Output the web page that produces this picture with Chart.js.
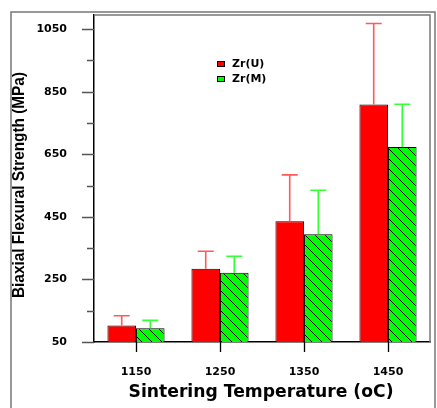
<!DOCTYPE html>
<html>
<head>
<meta charset="utf-8">
<script src="https://cdn.jsdelivr.net/npm/chart.js@4"></script>
<style>
  html, body { margin: 0; padding: 0; background: #fff; }
  canvas { display: block; }
</style>
</head>
<body>
<canvas id="chart" width="437" height="408"></canvas>
<script>
// sintering temperatures (oC)
const temperatures = ["1150", "1250", "1350", "1450"];

// mean biaxial flexural strength (MPa)
const zrU = [103, 284, 436, 809];
const zrM = [94, 271, 394, 673];

// upper error bar (standard deviation, MPa)
const zrUErr = [31, 56, 148, 259];
const zrMErr = [25, 53, 141, 137];

// y axis ticks; only every other one gets a label
const yTicks = [50, 150, 250, 350, 450, 550, 650, 750, 850, 950, 1050];
const yLabels = [50, 250, 450, 650, 850, 1050];

const errors = [zrUErr, zrMErr];
const errorColors = ["#ff5a5a", "#35ff35"];

// green bars are filled with a back-slash hatch
function hatch() {
  const c = document.createElement("canvas");
  c.width = 10;
  c.height = 10;
  const g = c.getContext("2d");
  g.fillStyle = "#00ff00";
  g.fillRect(0, 0, 10, 10);
  g.strokeStyle = "#000";
  g.lineWidth = 1;
  g.beginPath();
  g.moveTo(-1, -1); g.lineTo(11, 11);
  g.moveTo(-6, 4); g.lineTo(6, 16);
  g.moveTo(4, -6); g.lineTo(16, 6);
  g.stroke();
  return g.createPattern(c, "repeat");
}

const decorations = {
  id: "decorations",
  afterDatasetsDraw(chart) {
    const ctx = chart.ctx;
    const y = chart.scales.y;
    ctx.save();
    // error bars, upward only
    chart.data.datasets.forEach((ds, i) => {
      const meta = chart.getDatasetMeta(i);
      meta.data.forEach((bar, j) => {
        const top = y.getPixelForValue(ds.data[j] + errors[i][j]);
        ctx.strokeStyle = errorColors[i];
        ctx.lineWidth = 1.6;
        ctx.beginPath();
        ctx.moveTo(bar.x, bar.y);
        ctx.lineTo(bar.x, top);
        ctx.moveTo(bar.x - 8, top);
        ctx.lineTo(bar.x + 8, top);
        ctx.stroke();
      });
    });
    ctx.restore();
  },
  afterDraw(chart) {
    const ctx = chart.ctx;
    const { left, right, top, bottom } = chart.chartArea;
    const x = chart.scales.x;
    const y = chart.scales.y;
    ctx.save();

    // outer frame and plot frame
    ctx.strokeStyle = "#777";
    ctx.lineWidth = 1.5;
    ctx.beginPath();
    ctx.moveTo(11, 408);
    ctx.lineTo(11, 12);
    ctx.lineTo(435, 12);
    ctx.lineTo(435, 408);
    ctx.moveTo(left, top);
    ctx.lineTo(right, top);
    ctx.lineTo(right, bottom);
    ctx.stroke();

    // y ticks: long for labelled values, short otherwise
    ctx.strokeStyle = "#555";
    ctx.lineWidth = 1.3;
    ctx.beginPath();
    yTicks.forEach(v => {
      const py = Math.round(y.getPixelForValue(v)) + 0.5;
      const len = yLabels.includes(v) ? 12 : 7;
      ctx.moveTo(left - len, py);
      ctx.lineTo(left, py);
    });
    ctx.stroke();

    // x ticks below the axis
    ctx.strokeStyle = "#000";
    ctx.beginPath();
    temperatures.forEach((t, i) => {
      const px = Math.round(x.getPixelForValue(i)) + 0.5;
      ctx.moveTo(px, bottom);
      ctx.lineTo(px, bottom + 10);
    });
    ctx.stroke();

    // axis titles
    ctx.fillStyle = "#000";
    ctx.textAlign = "center";
    ctx.textBaseline = "middle";
    ctx.font = "bold 17px 'DejaVu Sans'";
    const xTitle = "Sintering Temperature (oC)";
    const xw = ctx.measureText(xTitle).width;
    ctx.save();
    ctx.translate(261, 393);
    ctx.scale(265 / xw, 1);
    ctx.fillText(xTitle, 0, 0);
    ctx.restore();

    ctx.font = "bold 17px 'Liberation Sans'";
    const yTitle = "Biaxial Flexural Strength (MPa)";
    const yw = ctx.measureText(yTitle).width;
    ctx.save();
    ctx.translate(19, 185);
    ctx.rotate(-Math.PI / 2);
    ctx.scale(226 / yw, 1);
    ctx.fillText(yTitle, 0, 0);
    ctx.restore();

    // legend
    ctx.font = "bold 11px 'DejaVu Sans'";
    ctx.textAlign = "left";
    chart.data.datasets.forEach((ds, i) => {
      const ly = 61 + i * 15;
      ctx.fillStyle = i === 0 ? "#ff0000" : "#00ff00";
      ctx.fillRect(217, ly, 8, 6);
      ctx.strokeStyle = "#000";
      ctx.lineWidth = 1;
      ctx.strokeRect(217.5, ly + 0.5, 7, 5);
      ctx.fillStyle = "#000";
      ctx.fillText(ds.label, 232, ly + 3);
    });
    ctx.restore();
  }
};

const tickFont = { family: "'DejaVu Sans'", weight: "bold", size: 11 };

new Chart(document.getElementById("chart"), {
  type: "bar",
  data: {
    labels: temperatures,
    datasets: [
      {
        label: "Zr(U)",
        data: zrU,
        backgroundColor: "#ff0000",
        borderColor: "#000",
        borderWidth: 1,
        borderSkipped: "bottom",
      },
      {
        label: "Zr(M)",
        data: zrM,
        backgroundColor: hatch(),
        borderColor: "#000",
        borderWidth: 1,
        borderSkipped: "bottom",
      },
    ],
  },
  options: {
    responsive: false,
    animation: false,
    devicePixelRatio: 1,
    layout: { padding: { left: 0, top: 15, right: 7, bottom: 0 } },
    datasets: { bar: { categoryPercentage: 0.68, barPercentage: 1 } },
    plugins: { legend: { display: false }, tooltip: { enabled: false } },
    scales: {
      x: {
        grid: { display: false },
        border: { color: "#000", width: 1.5 },
        ticks: { font: tickFont, color: "#000", padding: 16, maxRotation: 0 },
        afterFit: s => {
          s.height = 66;
          s.paddingLeft = 0;
          s.paddingRight = 0;
        },
      },
      y: {
        min: 50,
        max: 1095,
        grid: { display: false },
        border: { color: "#000", width: 1.5 },
        afterBuildTicks: s => { s.ticks = yTicks.map(v => ({ value: v })); },
        ticks: {
          font: tickFont,
          color: "#000",
          padding: 19,
          callback: v => (yLabels.includes(v) ? String(v) : ""),
        },
        afterFit: s => {
          s.width = 94;
          s.paddingTop = 0;
          s.paddingBottom = 0;
        },
      },
    },
  },
  plugins: [decorations],
});
</script>
</body>
</html>
